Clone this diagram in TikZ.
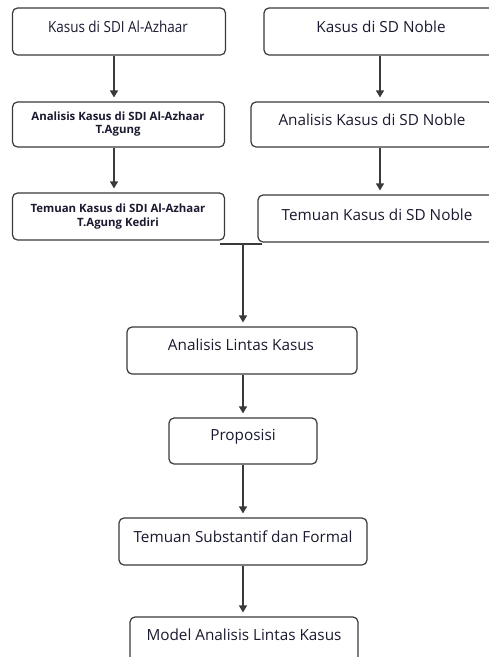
\documentclass[tikz,border=0pt]{standalone}
\usepackage{fontspec}
\setmainfont{Open Sans}
\usetikzlibrary{arrows.meta,calc}
\definecolor{linec}{HTML}{3A3A3A}
\definecolor{txtc}{HTML}{1A1A30}
\tikzset{
  box/.style={draw=linec, line width=1.2pt, rounded corners=5pt, inner sep=0pt, fill=white},
  txt/.style={text=txtc, font=\fontsize{15.3}{18}\selectfont, inner sep=0pt, align=center},
  smalltxt/.style={text=txtc, font=\fontsize{11.4}{13.8}\selectfont\bfseries, inner sep=0pt, align=center},
  arr/.style={draw=linec, line width=1.2pt, -{Triangle[length=7pt,width=8pt]}, shorten >=4pt},
  plain/.style={draw=linec, line width=1.2pt}
}
\begin{document}
\begin{tikzpicture}[x=1pt,y=-1pt]
\clip (0,0) rectangle (489,657);
\fill[white] (0,0) rectangle (489,657);
% boxes
\node[box, minimum width=213pt, minimum height=47pt] (b1) at (119,31.5) {};
\node[box, minimum width=234pt, minimum height=47pt] (b2) at (381,31.5) {};
\node[box, minimum width=212pt, minimum height=45pt] (b3) at (118.5,124.5) {};
\node[box, minimum width=242pt, minimum height=45pt] (b4) at (372,124.5) {};
\node[box, minimum width=212pt, minimum height=47pt] (b5) at (118.5,216.5) {};
\node[box, minimum width=238pt, minimum height=47pt] (b6) at (377,218.5) {};
\node[box, minimum width=230pt, minimum height=47pt] (b7) at (242,350.5) {};
\node[box, minimum width=148pt, minimum height=46pt] (b8) at (243,441) {};
\node[box, minimum width=248pt, minimum height=47pt] (b9) at (243,541.5) {};
\node[box, minimum width=228pt, minimum height=47pt] (b10) at (244,640.5) {};
% texts
\node[txt] (t1) at (118,27) {\scalebox{0.88}[1]{Kasus di SDI Al-Azhaar}};
\node[txt] (t2) at (381,27) {Kasus di SD Noble};
\node[smalltxt] (t3) at (118,124) {Analisis Kasus di SDI Al-Azhaar\\T.Agung};
\node[txt] (t4) at (372,120) {Analisis Kasus di SD Noble};
\node[smalltxt] (t5) at (118,216.5) {Temuan Kasus di SDI Al-Azhaar\\T.Agung Kediri};
\node[txt] (t6) at (377,215) {Temuan Kasus di SD Noble};
\node[txt] (t7) at (241,345) {Analisis Lintas Kasus};
\node[txt] (t8) at (243,437) {Proposisi};
\node[txt] (t9) at (243,537) {Temuan Substantif dan Formal};
\node[txt] (t10) at (244,635) {Model Analisis Lintas Kasus};
% helper coordinates
\coordinate (xl) at (114,0);
\coordinate (xr) at (380,0);
\coordinate (xc) at (243,0);
\coordinate (tl) at (220,244);
\coordinate (tr) at (262,244);
\coordinate (tm) at (243,244);
% connectors
\draw[arr] (b1.south -| xl) -- (b3.north -| xl);
\draw[arr] (b3.south -| xl) -- (b5.north -| xl);
\draw[arr] (b2.south -| xr) -- (b4.north -| xr);
\draw[arr] (b4.south -| xr) -- (b6.north -| xr);
\draw[plain] (tl) -- (tr);
\draw[arr] (tm) -- (b7.north -| tm);
\draw[arr] (b7.south -| xc) -- (b8.north -| xc);
\draw[arr] (b8.south -| xc) -- (b9.north -| xc);
\draw[arr] (b9.south -| xc) -- (b10.north -| xc);
\end{tikzpicture}
\end{document}
